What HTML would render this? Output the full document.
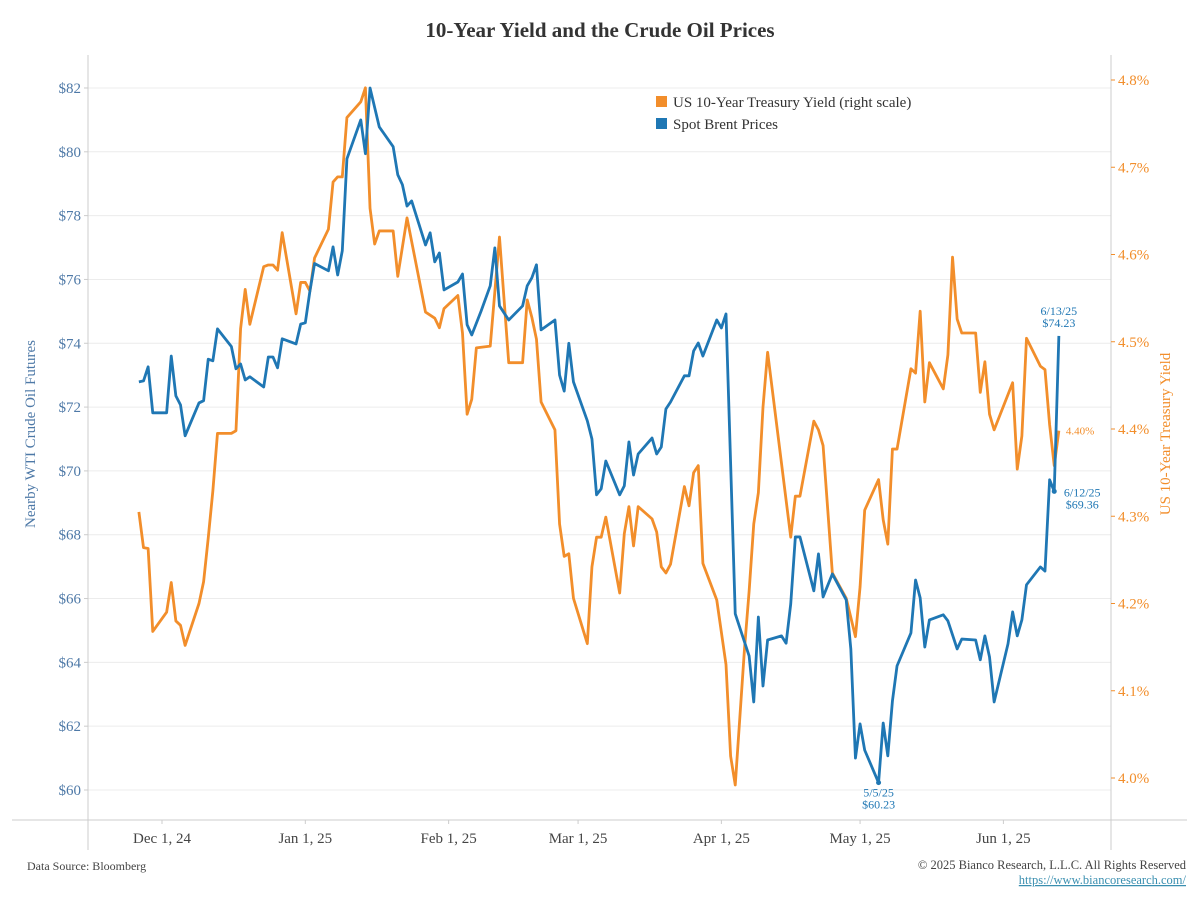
<!DOCTYPE html>
<html><head><meta charset="utf-8"><style>
body{margin:0;background:#fff;}
svg text{font-family:"Liberation Serif",serif;}
</style></head><body>
<svg id="chart" width="1200" height="900">
<text x="600" y="37" text-anchor="middle" font-size="21" font-weight="bold" fill="#333">10-Year Yield and the Crude Oil Prices</text>
<g id="grid"></g>
<line x1="88" y1="55" x2="88" y2="850" stroke="#ccc"/>
<line x1="1111" y1="55" x2="1111" y2="850" stroke="#ccc"/>
<line x1="12" y1="820" x2="1187" y2="820" stroke="#ccc"/>
<g id="axes"></g>
<g id="series"></g>
<text x="35" y="434" text-anchor="middle" font-size="15" fill="#4e79a7" transform="rotate(-90 35 434)">Nearby WTI Crude Oil Futures</text>
<text x="1170" y="434" text-anchor="middle" font-size="15" fill="#f28e2b" transform="rotate(-90 1170 434)">US 10-Year Treasury Yield</text>
<g>
<rect x="656" y="96" width="11" height="11" fill="#f28e2b"/>
<text x="673" y="107" font-size="15" fill="#333">US 10-Year Treasury Yield (right scale)</text>
<rect x="656" y="118" width="11" height="11" fill="#1f77b4"/>
<text x="673" y="129" font-size="15" fill="#333">Spot Brent Prices</text>
</g>
<text x="27" y="870" font-size="12" fill="#444">Data Source: Bloomberg</text>
<text x="1186" y="869" text-anchor="end" font-size="12.5" fill="#444">© 2025 Bianco Research, L.L.C. All Rights Reserved</text>
<text x="1186" y="884" text-anchor="end" font-size="12.5" fill="#3a8fb0" text-decoration="underline">https://www.biancoresearch.com/</text>
</svg>
<script>
const leftTicks=[60,62,64,66,68,70,72,74,76,78,80,82];
const rightTicks=[4.0,4.1,4.2,4.3,4.4,4.5,4.6,4.7,4.8];
const xTickDays=[0,31,62,90,121,151,182];
const xTickLabels=["Dec 1, 24","Jan 1, 25","Feb 1, 25","Mar 1, 25","Apr 1, 25","May 1, 25","Jun 1, 25"];
const brentDays=[-5,-4,-3,-2,1,2,3,4,5,8,9,10,11,12,15,16,17,18,19,22,23,24,25,26,29,30,31,32,33,36,37,38,39,40,43,44,45,47,50,51,52,53,54,57,58,59,60,61,64,65,66,67,69,71,72,73,75,78,79,80,81,82,85,86,87,88,89,92,93,94,95,96,99,100,101,102,103,106,107,108,109,110,113,114,115,116,117,120,121,122,124,127,128,129,130,131,134,135,136,137,138,141,142,143,145,148,149,150,151,152,155,156,157,158,159,162,163,164,165,166,169,170,172,173,176,177,178,179,180,183,184,185,186,187,190,191,192,193,194];
const brentValues=[72.79,72.82,73.26,71.82,71.82,73.6,72.35,72.07,71.1,72.13,72.2,73.5,73.45,74.45,73.9,73.2,73.35,72.85,72.95,72.63,73.57,73.57,73.23,74.14,73.98,74.6,74.64,75.64,76.5,76.27,77.02,76.14,76.9,79.78,81.0,79.94,82.0,80.78,80.16,79.28,78.97,78.3,78.46,77.08,77.46,76.55,76.83,75.67,75.92,76.17,74.58,74.26,75.0,75.8,76.99,75.17,74.73,75.17,75.8,76.05,76.46,74.42,74.73,73.0,72.5,74.0,72.79,71.57,71.0,69.25,69.44,70.31,69.25,69.53,70.91,69.87,70.53,71.03,70.53,70.75,71.94,72.16,72.98,72.98,73.76,74.01,73.6,74.73,74.48,74.92,65.52,64.2,62.76,65.42,63.26,64.7,64.83,64.6,65.83,67.93,67.93,66.24,67.4,66.05,66.77,65.96,64.42,61.0,62.07,61.25,60.23,62.1,61.07,62.79,63.89,64.92,66.58,66.02,64.48,65.33,65.49,65.3,64.42,64.73,64.7,64.08,64.83,64.17,62.76,64.58,65.58,64.83,65.33,66.43,66.99,66.86,69.72,69.36,74.23];
const yieldDays=[-5,-4,-3,-2,1,2,3,4,5,8,9,10,11,12,15,16,17,18,19,22,23,24,25,26,29,30,31,32,33,36,37,38,39,40,43,44,45,46,47,50,51,53,57,59,60,61,64,65,66,67,68,71,73,75,78,79,80,81,82,85,86,87,88,89,92,93,94,95,96,99,100,101,102,103,106,107,108,109,110,113,114,115,116,117,120,122,123,124,126,127,128,129,130,131,136,137,138,141,142,143,145,148,150,151,152,155,156,157,158,159,162,163,164,165,166,169,170,171,172,173,176,177,178,179,180,184,185,186,187,190,191,192,193,194];
const yieldValues=[4.305,4.264,4.263,4.168,4.19,4.224,4.18,4.175,4.152,4.2,4.225,4.275,4.329,4.395,4.395,4.398,4.515,4.56,4.52,4.586,4.588,4.588,4.582,4.625,4.532,4.568,4.568,4.558,4.596,4.629,4.683,4.689,4.689,4.757,4.775,4.791,4.653,4.612,4.627,4.627,4.575,4.642,4.534,4.527,4.516,4.538,4.553,4.51,4.417,4.434,4.493,4.495,4.62,4.476,4.476,4.548,4.528,4.503,4.431,4.399,4.291,4.254,4.257,4.206,4.154,4.242,4.276,4.276,4.299,4.212,4.28,4.311,4.266,4.311,4.297,4.282,4.242,4.235,4.245,4.334,4.312,4.35,4.358,4.246,4.204,4.13,4.025,3.992,4.148,4.214,4.291,4.327,4.425,4.488,4.276,4.323,4.323,4.409,4.399,4.381,4.235,4.206,4.162,4.219,4.307,4.342,4.296,4.268,4.377,4.377,4.469,4.464,4.535,4.431,4.476,4.446,4.485,4.597,4.526,4.51,4.51,4.442,4.477,4.417,4.399,4.453,4.354,4.392,4.504,4.472,4.468,4.405,4.358,4.398];

const NS="http://www.w3.org/2000/svg";
const xS=d=>162+d*4.623;
const yL=v=>790-(v-60)*31.91;
const yR=v=>778-(v-4.0)*872.5;
function mk(tag,attrs,parent,text){const e=document.createElementNS(NS,tag);for(const k in attrs)e.setAttribute(k,attrs[k]);if(text!==undefined)e.textContent=text;parent.appendChild(e);return e;}
const grid=document.getElementById('grid'),axes=document.getElementById('axes'),series=document.getElementById('series');
leftTicks.forEach(v=>{
  const g=mk('line',{x1:88,x2:1111,y1:yL(v),y2:yL(v),stroke:'#ececec'},grid);
  
  
  const t=mk('line',{x1:84,x2:88,y1:yL(v),y2:yL(v),stroke:'#ccc'},axes);
  
  
  const l=mk('text',{x:81,y:yL(v)+5,'text-anchor':'end','font-size':15,fill:'#4e79a7'},axes,'$'+v);
  
  
});
rightTicks.forEach(v=>{
  const t=mk('line',{x1:1111,x2:1115,y1:yR(v),y2:yR(v),stroke:'#f28e2b'},axes);
  
  
  const l=mk('text',{x:1118,y:yR(v)+5,'font-size':15,fill:'#f28e2b'},axes,v.toFixed(1)+'%');
  
  
});
xTickDays.forEach((d,i)=>{
  const t=mk('line',{x1:xS(d),x2:xS(d),y1:820,y2:824,stroke:'#ccc'},axes);
  
  
  const l=mk('text',{x:xS(d),y:843,'text-anchor':'middle','font-size':15,fill:'#444'},axes,xTickLabels[i]);
  
  
});
const yp=mk('polyline',{points:yieldDays.map((d,i)=>xS(d)+','+yR(yieldValues[i])).join(' '),fill:'none',stroke:'#f28e2b','stroke-width':2.8,'stroke-linejoin':'round'},series);


const bp=mk('polyline',{points:brentDays.map((d,i)=>xS(d)+','+yL(brentValues[i])).join(' '),fill:'none',stroke:'#1f77b4','stroke-width':2.8,'stroke-linejoin':'round'},series);


function ann(d,v,lines,dx,dy,color,anchor,size){
  lines.forEach((s,k)=>{const t=mk('text',{x:xS(d)+dx,y:yL(v)+dy+k*12,'text-anchor':anchor,'font-size':size,fill:color},series,s);
  
  });
}
const iMin=brentValues.indexOf(Math.min(...brentValues));
ann(brentDays[iMin],brentValues[iMin],['5/5/25','$'+brentValues[iMin].toFixed(2)],0,14,'#1f77b4','middle',12);
const nB=brentValues.length-1;
ann(brentDays[nB],brentValues[nB],['6/13/25','$'+brentValues[nB].toFixed(2)],0,-21,'#1f77b4','middle',12);
ann(brentDays[nB-1],brentValues[nB-1],['6/12/25','$'+brentValues[nB-1].toFixed(2)],28,5,'#1f77b4','middle',12);
const nY=yieldValues.length-1;
const yt=mk('text',{x:xS(yieldDays[nY])+7,y:yR(yieldValues[nY])+4,'font-size':11,fill:'#f28e2b'},series,yieldValues[nY].toFixed(2)+'%');


[[brentDays[iMin],yL(brentValues[iMin])],[brentDays[nB-1],yL(brentValues[nB-1])]].forEach(p=>{
  const c=mk('circle',{cx:xS(p[0]),cy:p[1],r:2.5,fill:'#1f77b4'},series);
  
  
});
</script>
</body></html>
